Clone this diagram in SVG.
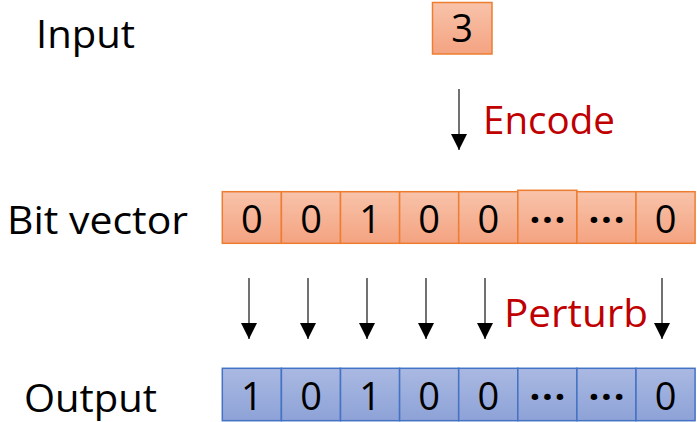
<svg xmlns="http://www.w3.org/2000/svg" width="697" height="422" viewBox="0 0 697 422">
  <defs>
    <linearGradient id="orangeFill" x1="0" y1="0" x2="0" y2="1">
      <stop offset="0" stop-color="#F8C3AA"/>
      <stop offset="1" stop-color="#F4A381"/>
    </linearGradient>
    <linearGradient id="blueFill" x1="0" y1="0" x2="0" y2="1">
      <stop offset="0" stop-color="#AAB9E2"/>
      <stop offset="1" stop-color="#8DA2D7"/>
    </linearGradient>
    <marker id="head" viewBox="0 0 16 16" markerWidth="16" markerHeight="16" refX="16" refY="8" orient="auto" markerUnits="userSpaceOnUse">
      <path d="M0,0 L16,8 L0,16 Z" fill="#000"/>
    </marker>
  </defs>
  <style>
    text { font-family: "Open Sans", "Liberation Sans", sans-serif; font-size: 38px; fill: #000; }
    .red { fill: #C00000; }
    .digit { text-anchor: middle; }
    .dots { text-anchor: middle; font-weight: bold; }
    .bit rect { fill: url(#orangeFill); stroke: #ED7D31; stroke-width: 1.5; }
    .out rect { fill: url(#blueFill); stroke: #4472C4; stroke-width: 1.5; }
    .arrow { stroke: #262626; stroke-width: 1.3; fill: none; }
  </style>

  <!-- row labels -->
  <g id="labels">
    <text x="36" y="48" textLength="99" lengthAdjust="spacingAndGlyphs">Input</text>
    <text x="7" y="234" textLength="181" lengthAdjust="spacingAndGlyphs">Bit vector</text>
    <text x="24" y="411.5" textLength="133" lengthAdjust="spacingAndGlyphs">Output</text>
  </g>

  <!-- input value -->
  <g id="input" class="bit">
    <rect x="432.5" y="2.5" width="59.5" height="51.5"/>
    <text class="digit" x="462" y="42">3</text>
  </g>

  <!-- encoded bit vector -->
  <g id="bitvector" class="bit">
    <rect x="222.3" y="191.7" width="59.1" height="51.6"/>
    <rect x="281.4" y="191.7" width="59.1" height="51.6"/>
    <rect x="340.5" y="191.7" width="59.1" height="51.6"/>
    <rect x="399.6" y="191.7" width="59.1" height="51.6"/>
    <rect x="458.7" y="191.7" width="59.1" height="51.6"/>
    <rect x="517.8" y="190.3" width="59.1" height="53"/>
    <rect x="576.9" y="191.7" width="59.1" height="51.6"/>
    <rect x="636.0" y="191.7" width="59.1" height="51.6"/>
    <text class="digit" x="251.9" y="232.5">0</text>
    <text class="digit" x="311.0" y="232.5">0</text>
    <text class="digit" x="370.1" y="232.5">1</text>
    <text class="digit" x="429.2" y="232.5">0</text>
    <text class="digit" x="488.3" y="232.5">0</text>
    <text class="dots" x="547.4" y="232.5" textLength="36" lengthAdjust="spacing">···</text>
    <text class="dots" x="606.5" y="232.5" textLength="36" lengthAdjust="spacing">···</text>
    <text class="digit" x="665.6" y="232.5">0</text>
  </g>

  <!-- perturbed output -->
  <g id="output" class="out">
    <rect x="222.3" y="368.3" width="59.1" height="52.4"/>
    <rect x="281.4" y="368.3" width="59.1" height="52.4"/>
    <rect x="340.5" y="368.3" width="59.1" height="52.4"/>
    <rect x="399.6" y="368.3" width="59.1" height="52.4"/>
    <rect x="458.7" y="368.3" width="59.1" height="52.4"/>
    <rect x="517.8" y="368.3" width="59.1" height="52.4"/>
    <rect x="576.9" y="368.3" width="59.1" height="52.4"/>
    <rect x="636.0" y="368.3" width="59.1" height="52.4"/>
    <text class="digit" x="251.9" y="410">1</text>
    <text class="digit" x="311.0" y="410">0</text>
    <text class="digit" x="370.1" y="410">1</text>
    <text class="digit" x="429.2" y="410">0</text>
    <text class="digit" x="488.3" y="410">0</text>
    <text class="dots" x="547.4" y="410" textLength="36" lengthAdjust="spacing">···</text>
    <text class="dots" x="606.5" y="410" textLength="36" lengthAdjust="spacing">···</text>
    <text class="digit" x="665.6" y="410">0</text>
  </g>

  <!-- step labels -->
  <g id="steps">
    <text class="red" x="483" y="134" textLength="132" lengthAdjust="spacingAndGlyphs">Encode</text>
    <text class="red" x="504" y="327" textLength="144" lengthAdjust="spacingAndGlyphs">Perturb</text>
  </g>

  <!-- connectors -->
  <g id="connectors">
    <line class="arrow" x1="459" y1="89" x2="459" y2="150" marker-end="url(#head)"/>
    <line class="arrow" x1="249" y1="278" x2="249" y2="339" marker-end="url(#head)"/>
    <line class="arrow" x1="308" y1="278" x2="308" y2="339" marker-end="url(#head)"/>
    <line class="arrow" x1="367" y1="278" x2="367" y2="339" marker-end="url(#head)"/>
    <line class="arrow" x1="426" y1="278" x2="426" y2="339" marker-end="url(#head)"/>
    <line class="arrow" x1="485" y1="278" x2="485" y2="339" marker-end="url(#head)"/>
    <line class="arrow" x1="662" y1="278" x2="662" y2="339" marker-end="url(#head)"/>
  </g>
</svg>
